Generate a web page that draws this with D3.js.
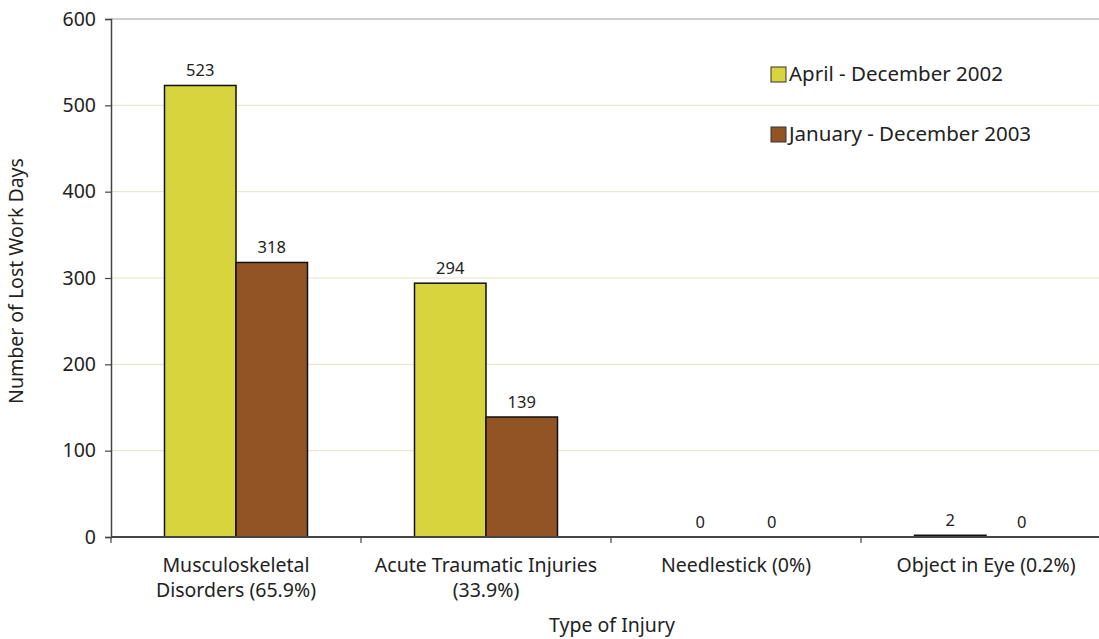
<!DOCTYPE html>
<html>
<head>
<meta charset="utf-8">
<script src="https://cdn.jsdelivr.net/npm/d3@7"></script>
<style>
  html, body { margin: 0; padding: 0; background: #fff; }
  svg { display: block; font-family: "Noto Sans", sans-serif; }
</style>
</head>
<body>
<svg id="chart" width="1099" height="639"></svg>
<script>
// Lost work days by type of injury, two reporting periods
const categories = [
  ["Musculoskeletal", "Disorders (65.9%)"],
  ["Acute Traumatic Injuries", "(33.9%)"],
  ["Needlestick (0%)"],
  ["Object in Eye (0.2%)"]
];
const seriesNames = ["April - December 2002", "January - December 2003"];
const values2002 = [523, 294, 0, 2];
const values2003 = [318, 139, 0, 0];
const yTicks = [0, 100, 200, 300, 400, 500, 600];
const colors = ["#d8d43e", "#935425"];

const FONT = "'Noto Sans', sans-serif";
const svg = d3.select("#chart");
const margin = { left: 111, top: 19, bottom: 537, right: 1111 };

const x = d3.scaleBand()
  .domain(d3.range(categories.length))
  .range([margin.left, margin.right])
  .paddingInner(0).paddingOuter(0);

const y = d3.scaleLinear().domain([0, 600]).range([margin.bottom, margin.top]);

const barW = 71.5;
const series = [values2002, values2003];

// horizontal gridlines
svg.append("g")
  .selectAll("line")
  .data(yTicks.filter(d => d > 0 && d < 600))
  .join("line")
  .attr("x1", margin.left).attr("x2", 1099)
  .attr("y1", d => y(d)).attr("y2", d => y(d))
  .attr("stroke", "#e4e4c4").attr("stroke-width", 1);

// top border of plot area
svg.append("line")
  .attr("x1", margin.left).attr("x2", 1099)
  .attr("y1", y(600)).attr("y2", y(600))
  .attr("stroke", "#a0a0a0").attr("stroke-width", 1.2);

// bars
series.forEach((vals, s) => {
  svg.append("g")
    .selectAll("rect")
    .data(vals)
    .join("rect")
    .attr("x", (d, i) => x(i) + x.bandwidth() / 2 - barW + s * barW)
    .attr("y", d => y(d))
    .attr("width", barW)
    .attr("height", d => y(0) - y(d))
    .attr("fill", colors[s])
    .attr("stroke", "#111")
    .attr("stroke-width", 1.5);

  // value labels
  svg.append("g")
    .selectAll("text")
    .data(vals)
    .join("text")
    .attr("x", (d, i) => x(i) + x.bandwidth() / 2 - barW / 2 + s * barW)
    .attr("y", d => y(d) - 9)
    .attr("text-anchor", "middle")
    .attr("font-size", 16.5)
    .attr("fill", "#222")
    .text(d => d);
});

// y axis
const yAxis = d3.axisLeft(y).tickValues(yTicks).tickSize(6).tickPadding(9);
const gy = svg.append("g")
  .attr("transform", `translate(${margin.left},0)`)
  .call(yAxis);
gy.select(".domain").attr("stroke", "#444").attr("stroke-width", 1.5);
gy.selectAll(".tick line").attr("stroke", "#444").attr("stroke-width", 1.2);
gy.selectAll(".tick text")
  .attr("font-size", 19.5).attr("fill", "#222")
  .attr("font-family", FONT);

// x axis
const gx = svg.append("g").attr("transform", `translate(0,${y(0)})`);
gx.append("line")
  .attr("x1", margin.left).attr("x2", 1099)
  .attr("y1", 0).attr("y2", 0)
  .attr("stroke", "#444").attr("stroke-width", 2);
gx.selectAll("line.tick")
  .data(d3.range(categories.length + 1))
  .join("line")
  .attr("class", "tick")
  .attr("x1", i => margin.left + i * x.bandwidth())
  .attr("x2", i => margin.left + i * x.bandwidth())
  .attr("y1", 0).attr("y2", 6)
  .attr("stroke", "#444").attr("stroke-width", 1.2);

// category labels
const catText = gx.selectAll("text.cat")
  .data(categories)
  .join("text")
  .attr("class", "cat")
  .attr("text-anchor", "middle")
  .attr("font-size", 19.5)
  .attr("fill", "#222");
catText.selectAll("tspan")
  .data((d, i) => d.map(line => ({ line, i })))
  .join("tspan")
  .attr("x", d => x(d.i) + x.bandwidth() / 2)
  .attr("y", (d, j) => 35 + j * 25)
  .text(d => d.line);

// axis titles
svg.append("text")
  .attr("x", 612).attr("y", 632)
  .attr("text-anchor", "middle")
  .attr("font-size", 19.5).attr("fill", "#222")
  .text("Type of Injury");

svg.append("text")
  .attr("transform", "translate(23,281) rotate(-90)")
  .attr("text-anchor", "middle")
  .attr("font-size", 19.5).attr("fill", "#222")
  .text("Number of Lost Work Days");

// legend
const legend = svg.append("g");
seriesNames.forEach((name, s) => {
  const gy0 = 67 + s * 60;
  legend.append("rect")
    .attr("x", 771).attr("y", gy0)
    .attr("width", 15).attr("height", 15)
    .attr("fill", colors[s])
    .attr("stroke", "#333").attr("stroke-width", 1);
  legend.append("text")
    .attr("x", 789).attr("y", gy0 + 14)
    .attr("font-size", 20.5).attr("fill", "#222")
    .text(name);
});
</script>
</body>
</html>
